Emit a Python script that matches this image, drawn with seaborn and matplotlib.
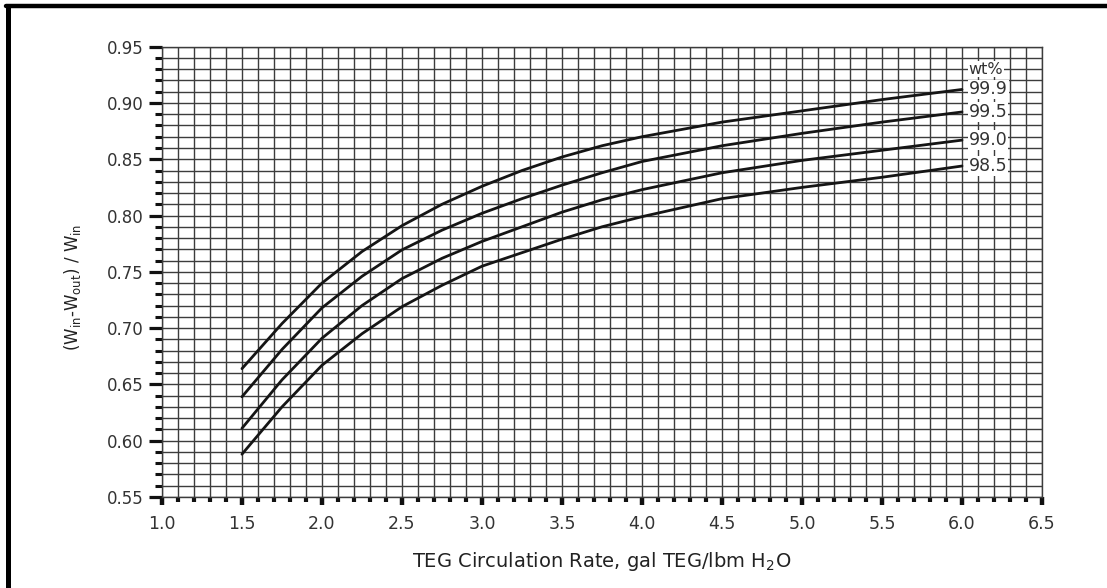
"""TEG dehydration: water removal fraction vs circulation rate."""
import matplotlib
matplotlib.use("Agg")
import matplotlib.pyplot as plt
from matplotlib.lines import Line2D
from matplotlib.ticker import MultipleLocator
import seaborn as sns
import pandas as pd

# values
rate = [1.5, 1.75, 2.0, 2.25, 2.5, 2.75, 3.0, 3.25, 3.5, 3.75, 4.0, 4.5, 5.0, 5.5, 6.0]
r999 = [0.664, 0.704, 0.740, 0.768, 0.791, 0.810, 0.826, 0.840, 0.852, 0.862, 0.870, 0.883, 0.893, 0.903, 0.912]
r995 = [0.639, 0.681, 0.718, 0.746, 0.7695, 0.787, 0.802, 0.815, 0.827, 0.838, 0.848, 0.862, 0.873, 0.883, 0.892]
r990 = [0.611, 0.654, 0.691, 0.720, 0.744, 0.762, 0.777, 0.790, 0.803, 0.814, 0.823, 0.838, 0.849, 0.858, 0.867]
r985 = [0.588, 0.630, 0.667, 0.695, 0.719, 0.738, 0.755, 0.767, 0.779, 0.790, 0.799, 0.815, 0.825, 0.834, 0.844]
wt_labels = ["99.9", "99.5", "99.0", "98.5"]
x_ticks = [1.0, 1.5, 2.0, 2.5, 3.0, 3.5, 4.0, 4.5, 5.0, 5.5, 6.0, 6.5]
y_ticks = [0.55, 0.60, 0.65, 0.70, 0.75, 0.80, 0.85, 0.90, 0.95]

series = [r999, r995, r990, r985]
df = pd.concat(
    [pd.DataFrame({"rate": rate, "ratio": s, "wt": w}) for s, w in zip(series, wt_labels)],
    ignore_index=True,
)

sns.set_theme(style="white")
plt.rcParams["font.family"] = ["DejaVu Sans"]
plt.rcParams["mathtext.default"] = "regular"

fig = plt.figure(figsize=(11.07, 5.88), dpi=100)
ax = fig.add_axes([0.1463, 0.1548, 0.7950, 0.7658])

grid_col = "#3c3c3c"
ax.set_xlim(1.0, 6.5)
ax.set_ylim(0.55, 0.95)
ax.xaxis.set_minor_locator(MultipleLocator(0.1))
ax.yaxis.set_minor_locator(MultipleLocator(0.01))
ax.set_xticks(x_ticks)
ax.set_yticks(y_ticks)
ax.set_xticklabels([f"{v:.1f}" for v in x_ticks])
ax.set_yticklabels([f"{v:.2f}" for v in y_ticks])
ax.grid(True, which="both", color=grid_col, linewidth=1.0)
ax.set_axisbelow(True)
for sp in ax.spines.values():
    sp.set_color(grid_col)
    sp.set_linewidth(1.0)

sns.lineplot(data=df, x="rate", y="ratio", hue="wt", palette=["#151515"] * 4,
             linewidth=2.0, legend=False, ax=ax, zorder=3)

# right-hand labels
ax.text(6.15, 0.930, "wt%", ha="center", va="center", fontsize=11.5, color="#333333",
        bbox=dict(facecolor="white", edgecolor="none", pad=0.5), zorder=4)
for s, w in zip(series, wt_labels):
    ax.text(6.165, s[-1], w, ha="center", va="center", fontsize=12.5, color="#333333",
            bbox=dict(facecolor="white", edgecolor="none", pad=0.5), zorder=4)

ax.tick_params(axis="y", which="major", direction="out", length=9.5, width=2.3,
               color="#111111", labelsize=12, labelcolor="#333333", pad=3.5, left=True)
ax.tick_params(axis="y", which="minor", direction="out", length=5, width=2.2,
               color="#111111", left=True)
ax.tick_params(axis="x", which="major", direction="out", length=6, width=3.2,
               color="#111111", labelsize=12.5, labelcolor="#333333", pad=7, bottom=True)
ax.tick_params(axis="x", which="minor", direction="out", length=3.5, width=3.0,
               color="#111111", bottom=True)

ax.set_xlabel(r"TEG Circulation Rate, gal TEG/lbm H$_2$O", fontsize=14,
              color="#222222", labelpad=12)
ax.set_ylabel(r"(W$_{in}$-W$_{out}$) / W$_{in}$", fontsize=12, color="#222222")
ax.yaxis.set_label_coords(-0.090, 0.466)

# outer frame (top and left edges of the scanned figure)
fig.add_artist(Line2D([0.005, 1.0], [0.9895, 0.9895], color="black", linewidth=3.2,
                      transform=fig.transFigure))
fig.add_artist(Line2D([0.0072, 0.0072], [0.0, 0.9895], color="black", linewidth=3.6,
                      transform=fig.transFigure))

fig.savefig("out.png", dpi=100)
plt.close(fig)
